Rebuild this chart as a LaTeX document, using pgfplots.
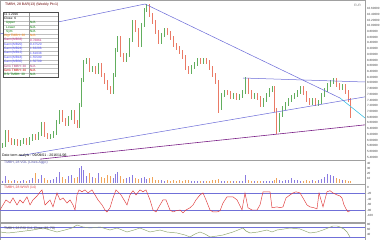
\documentclass[border=0pt]{standalone}
\usepackage{pgfplots}
\pgfplotsset{compat=1.18}
\usepackage{pgfplotstable}
\usepackage{fontspec}
\setmainfont{Liberation Sans}
\definecolor{cup}{HTML}{62AE5E}
\definecolor{cdn}{HTML}{EA7A66}
\definecolor{tl}{HTML}{6A6AD8}
\definecolor{tlp}{HTML}{7A1F86}
\definecolor{tlc}{HTML}{45C4E6}
\definecolor{frame}{HTML}{A0A0A0}
\definecolor{wr}{HTML}{E03A3A}
\definecolor{rsi}{HTML}{8CA36A}
\definecolor{volb}{HTML}{8A7BE0}
\definecolor{volo}{HTML}{F0A45A}
\definecolor{lvl}{HTML}{7070D8}

\pgfplotstableread{
x lo hi
2 5.72 5.90
5 5.76 6.35
14 5.83 6.04
20 5.79 6.00
23 5.86 6.07
29 5.83 6.11
32 5.97 6.21
38 6.00 6.28
41 6.14 6.63
50 6.04 6.21
53 6.07 6.32
56 6.18 6.70
59 6.56 7.05
68 6.49 6.84
71 6.70 7.05
79 6.42 7.30
81 7.16 8.17
83 8.03 8.80
86 8.66 8.87
92 8.38 8.59
98 8.31 8.70
113 7.61 8.35
115 8.21 9.22
117 9.08 9.64
126 8.73 9.05
129 8.91 9.57
132 9.43 10.20
141 9.26 10.10
144 9.96 10.62
146 10.48 10.76
161 9.36 9.75
164 9.61 9.92
191 8.31 8.63
194 8.49 8.73
197 8.59 8.87
203 8.66 8.87
221 7.05 7.65
224 7.51 7.75
233 7.44 7.65
239 7.40 7.61
242 7.47 7.75
245 7.61 8.21
254 7.44 7.65
263 7.16 7.47
266 7.33 7.65
269 7.51 7.82
272 7.68 7.89
279 6.28 6.95
282 6.81 7.19
285 7.05 7.33
288 7.19 7.47
291 7.33 7.58
294 7.44 7.65
297 7.51 7.75
300 7.61 7.89
312 7.23 7.47
318 7.19 7.40
321 7.26 7.65
324 7.51 7.82
327 7.68 8.00
330 7.86 8.10
333 7.96 8.17
342 7.75 7.96
}\upc

\pgfplotstableread{
x lo hi
8 5.93 6.35
11 5.83 6.07
17 5.79 6.04
26 5.83 6.07
35 6.00 6.21
44 6.11 6.63
47 6.04 6.25
62 6.63 7.05
65 6.49 6.77
74 6.56 7.05
77 6.42 6.70
89 8.38 8.87
95 8.31 8.59
101 8.21 8.70
104 7.96 8.35
107 7.75 8.10
110 7.61 7.89
120 8.91 9.64
123 8.73 9.05
135 9.78 10.20
138 9.26 9.92
149 10.31 10.76
152 10.06 10.45
155 9.71 10.20
158 9.36 9.85
167 9.68 9.92
170 9.50 9.82
173 9.26 9.64
176 9.15 9.40
179 9.01 9.29
182 8.84 9.15
185 8.45 8.98
188 8.31 8.59
200 8.66 8.87
206 8.66 8.87
209 8.45 8.80
212 8.21 8.59
215 7.96 8.35
218 6.95 8.10
227 7.58 7.75
230 7.44 7.72
236 7.40 7.65
248 7.61 8.17
251 7.44 7.75
257 7.40 7.65
260 7.16 7.54
274 6.98 7.89
276 6.21 7.12
303 7.58 7.89
306 7.33 7.72
309 7.23 7.47
315 7.19 7.47
336 7.86 8.17
339 7.75 8.00
345 7.61 7.96
348 7.33 7.75
350 6.77 7.47
}\dnc

\pgfplotstableread{
x v
2 4
5 14
14 5
20 3
23 5
29 6
32 10
38 8
41 16
50 5
53 7
56 12
59 22
68 14
71 16
79 30
81 34
83 26
86 14
92 12
98 20
113 10
115 18
117 22
126 10
129 12
132 16
141 10
144 12
146 8
161 5
164 4
191 4
194 3
197 4
203 4
221 4
224 3
233 3
239 3
242 4
245 16
254 3
263 3
266 4
269 3
272 4
279 5
282 4
285 5
288 6
291 10
294 6
297 5
300 4
312 5
318 5
321 8
324 12
327 18
330 16
333 14
342 6
}\volup

\pgfplotstableread{
x v
8 6
11 4
17 4
26 4
35 20
44 10
47 6
62 12
65 8
74 10
77 12
89 20
95 10
101 12
104 10
107 16
110 14
120 14
123 8
135 10
138 8
149 10
152 12
155 6
158 6
167 5
170 4
173 6
176 4
179 5
182 4
185 6
188 5
200 3
206 3
209 4
212 5
215 6
218 8
227 4
230 3
236 4
248 6
251 4
257 3
260 4
274 6
276 10
303 4
306 5
309 4
315 4
336 10
339 8
345 5
348 4
350 3
}\voldn

\pgfplotsset{
  panel/.style={
    scale only axis, anchor=south west, xmin=0, xmax=365, xtick=\empty,
    axis line style={draw=frame, line width=0.4pt},
    ytick pos=right, yticklabel pos=right, tick align=outside,
    major tick length=1.2pt, tick style={draw=black!70, line width=0.3pt},
    yticklabel style={font=\fontsize{3}{3.4}\selectfont, inner sep=0.6pt, text=black!75},
    /pgf/number format/assume math mode=true,
  },
}

\begin{document}
\begin{tikzpicture}
\useasboundingbox (0pt,0pt) rectangle (380pt,240pt);
\clip (0pt,0pt) rectangle (380pt,240pt);
\fill[white] (0pt,0pt) rectangle (380pt,240pt);

% ---------- main price panel ----------
\begin{axis}[panel, at={(0pt,80pt)}, width=365pt, height=160pt,
  ymin=5.3, ymax=10.9,
  ytick={5.4,5.6,5.8,6.0,6.2,6.4,6.6,6.8,7.0,7.2,7.4,7.6,7.8,8.0,8.2,8.4,8.6,8.8,9.0,9.2,9.4,9.6,9.8,10.0,10.2,10.4,10.6},
  yticklabel={\pgfmathprintnumber[fixed,fixed zerofill,precision=5]{\tick}}]
\addplot[draw=none, mark=none, forget plot,
  error bars/.cd, y dir=both, y explicit, error mark=none,
  error bar style={draw=cup, line width=1.0pt}]
  table[x=x, y expr=(\thisrow{lo}+\thisrow{hi})/2, y error expr=(\thisrow{hi}-\thisrow{lo})/2] \upc;
\addplot[draw=none, mark=none, forget plot,
  error bars/.cd, y dir=both, y explicit, error mark=none,
  error bar style={draw=cdn, line width=1.0pt}]
  table[x=x, y expr=(\thisrow{lo}+\thisrow{hi})/2, y error expr=(\thisrow{hi}-\thisrow{lo})/2] \dnc;
% trend lines
\addplot[tl, line width=0.5pt] coordinates {(0,9.71) (145,10.76)};
\addplot[tl, line width=0.5pt] coordinates {(145,10.76) (340,7.47)};
\addplot[tlc, line width=0.6pt] coordinates {(340,7.47) (365,6.77)};
\addplot[tl, line width=0.5pt] coordinates {(243,8.17) (365,8.03)};
\addplot[tl, line width=0.5pt] coordinates {(20,5.45) (365,7.51)};
\addplot[tlp, line width=0.6pt] coordinates {(40,5.33) (365,6.53)};
\end{axis}

% ---------- volume panel ----------
\begin{axis}[panel, at={(0pt,56pt)}, width=365pt, height=24pt,
  ymin=-2, ymax=46, ytick={10,20,30,40}]
\addplot[ycomb, volb, line width=0.9pt, mark=none] table[x=x,y=v] \volup;
\addplot[ycomb, volo, line width=0.9pt, mark=none] table[x=x,y=v] \voldn;
\end{axis}

% ---------- Williams %R panel ----------
\begin{axis}[panel, at={(0pt,18pt)}, width=365pt, height=38pt,
  ymin=-122, ymax=14, ytick={0,-20,-40,-60,-80,-100}]
\addplot[lvl, line width=0.5pt] coordinates {(0,-20) (365,-20)};
\addplot[lvl, line width=0.5pt] coordinates {(0,-80) (365,-80)};
\addplot[wr, line width=0.45pt] coordinates {
(0,-79) (3,-61) (6,-43) (10,-54) (13,-36) (17,-61) (20,-43) (23,-54) (27,-32) (30,-61)
(33,-43) (37,-29) (40,-15) (42,-7) (45,-61) (50,-43) (53,-68) (57,-18) (60,-43) (63,-36)
(67,-54) (70,-43) (73,-61) (75,-79) (77,-25) (79,-7) (82,-14) (85,-7) (88,-18) (92,-7)
(95,-25) (98,-43) (102,-61) (105,-79) (107,-86) (110,-71) (113,-36) (116,-7) (118,-14) (121,-25)
(124,-43) (127,-61) (130,-25) (133,-10) (136,-25) (140,-7) (143,-14) (146,-7) (150,-43) (153,-79)
(156,-86) (160,-61) (163,-43) (166,-43) (170,-79) (173,-86) (176,-82) (180,-79) (183,-89) (186,-79)
(190,-71) (193,-61) (196,-43) (200,-25) (203,-18) (206,-43) (210,-79) (213,-86) (217,-86) (220,-82)
(223,-54) (227,-32) (230,-32) (233,-32) (237,-43) (242,-79) (245,-18) (248,-71) (252,-79) (257,-79)
(260,-61) (263,-14) (266,-14) (270,-14) (272,-71) (277,-68) (280,-71) (283,-68) (286,-36) (290,-25)
(293,-18) (296,-14) (300,-18) (303,-36) (307,-61) (310,-68) (314,-71) (317,-75) (319,-18) (323,-68)
(327,-14) (330,-10) (333,-18) (337,-25) (340,-29) (342,-36) (344,-61) (346,-75) (348,-86) (350,-82)};
\end{axis}

% ---------- RSI panel ----------
\begin{axis}[panel, at={(0pt,-6pt)}, width=365pt, height=23pt,
  ymin=-6, ymax=86, ytick={40,60,80}]
\addplot[lvl, line width=0.5pt] coordinates {(0,70) (365,70)};
\addplot[lvl, line width=0.5pt] coordinates {(0,30) (365,30)};
\addplot[rsi, line width=0.45pt] coordinates {
(0,50) (8,46) (17,50) (25,54) (33,58) (43,66) (50,58) (57,50) (65,58) (72,66)
(77,78) (83,70) (90,66) (100,70) (110,58) (117,66) (127,50) (134,58) (140,66) (150,50)
(160,58) (167,50) (177,46) (185,38) (190,30) (195,42) (200,50) (205,42) (210,30) (217,34)
(223,38) (233,50) (243,66) (246,54) (250,46) (258,50) (267,58) (272,50) (277,58) (284,62)
(290,66) (300,62) (310,46) (317,50) (323,58) (328,66) (333,74) (337,74) (340,70) (344,62)
(347,50) (350,30)};
\end{axis}

% ---------- texts ----------
\tikzset{lt/.style={anchor=west, inner sep=0pt, font=\fontsize{3.2}{3.2}\selectfont}}
\node[lt, text=black!60!red, font=\fontsize{3.5}{3.5}\selectfont] at (5pt,235.5pt) {TMBH, 28 BAR(13) (Weekly Pt=1)};
\node[lt, text=black!50, font=\fontsize{3.2}{3.2}\selectfont] at (354pt,235pt) {EUR};
\node[lt, text=black, font=\fontsize{3.5}{3.5}\selectfont] at (2pt,84pt) {Date term analyis : 09/09/01 - 2016/11/06};
\node[lt, text=tl!80!black, font=\fontsize{3.4}{3.4}\selectfont] at (4pt,77pt) {TMBH, 28 VOL (Lines-Aggo)};
\node[lt, text=wr, font=\fontsize{3.4}{3.4}\selectfont] at (4pt,52pt) {TMBH, 28 W\%R (14)};
\node[lt, text=black!70, font=\fontsize{3.4}{3.4}\selectfont] at (4pt,11pt) {TMBH, 28 RSI (14, Close, 30, 70)};

% legend table
\fill[white] (3pt,163pt) rectangle (58pt,228pt);
\foreach \i in {1,...,14} \draw[black!25, line width=0.2pt] (3pt,{228pt-\i*4.3333pt}) -- (58pt,{228pt-\i*4.3333pt});
\draw[black!40, line width=0.2pt] (29pt,163pt) -- (29pt,228pt);
\draw[black!70, line width=0.3pt] (3pt,163pt) rectangle (58pt,228pt);
\node[lt, text=black] at (4pt,225.83pt) {11.1.2016};
\node[lt, text=black] at (4pt,221.5pt) {Close: 6};
\node[lt, text=green!50!black] at (6pt,217.17pt) {Upper}; \node[lt, text=green!50!black] at (30pt,217.17pt) {N/A};
\node[lt, text=green!50!black] at (6pt,212.83pt) {Lower}; \node[lt, text=green!50!black] at (30pt,212.83pt) {N/A};
\node[lt, text=green!50!black] at (6pt,208.5pt) {Sym}; \node[lt, text=green!50!black] at (30pt,208.5pt) {N/A};
\node[lt, text=orange] at (4pt,204.17pt) {Wgt TMBH: 30}; \node[lt, text=orange] at (30pt,204.17pt) {N/A};
\node[lt, text=magenta!80!black] at (4pt,199.83pt) {Gann(MB33)}; \node[lt, text=magenta!80!black] at (30pt,199.83pt) {0.76861};
\node[lt, text=blue!70] at (4pt,195.5pt) {Gann(MB20)}; \node[lt, text=blue!70] at (30pt,195.5pt) {0.47520};
\node[lt, text=blue!70] at (4pt,191.17pt) {Gann(MB24)}; \node[lt, text=blue!70] at (30pt,191.17pt) {1.63286};
\node[lt, text=blue!70] at (4pt,186.83pt) {Gann(MB12)}; \node[lt, text=blue!70] at (30pt,186.83pt) {1.61038};
\node[lt, text=blue!70] at (4pt,182.5pt) {Gann(MB18)}; \node[lt, text=blue!70] at (30pt,182.5pt) {1.55599};
\node[lt, text=blue!70] at (4pt,178.17pt) {Gann(MB30)}; \node[lt, text=blue!70] at (30pt,178.17pt) {1.50709};
\node[lt, text=magenta!70!black] at (4pt,173.83pt) {Gmk TMBH: 30}; \node[lt, text=magenta!70!black] at (30pt,173.83pt) {N/A};
\node[lt, text=red!80!black] at (4pt,169.5pt) {Gmk TMBH: 30}; \node[lt, text=red!80!black] at (30pt,169.5pt) {N/A};
\node[lt, text=green!50!black] at (4pt,165.17pt) {RSI TMBH: 30}; \node[lt, text=green!50!black] at (30pt,165.17pt) {N/A};
\end{tikzpicture}
\end{document}
